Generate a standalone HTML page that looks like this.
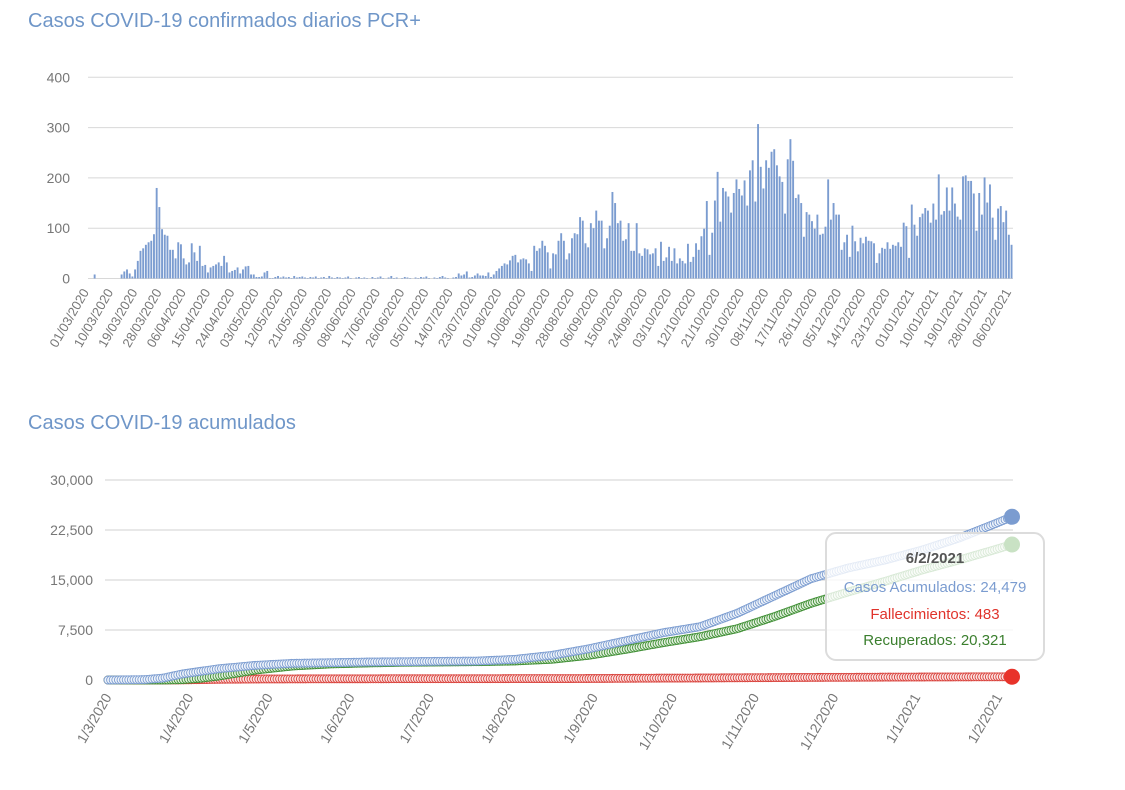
<!DOCTYPE html>
<html><head><meta charset="utf-8"><style>
body{margin:0;background:#fff;width:1125px;height:790px;overflow:hidden;font-family:"Liberation Sans",sans-serif}
svg{display:block}
</style></head><body>
<svg id="s" width="1125" height="790">
<text x="28" y="27" font-size="20" fill="#6f96c8">Casos COVID-19 confirmados diarios PCR+</text>
<text x="28" y="429" font-size="20" fill="#6f96c8">Casos COVID-19 acumulados</text>
<g id="topg"></g>
<g id="botg"></g>
</svg>
<script>
const daily=[0,0,8,0,0,0,0,0,0,0,0,0,
8,14,18,10,4,18,35,55,60,67,72,75,88,180,142,98,87,85,57,57,40,72,68,40,28,32,70,52,35,65,25,27,12,22,25,28,32,25,45,32,12,15,17,22,10,18,24,25,8,8,3,3,4,12,15,1,1,3,5,2,
4,2,3,1,5,2,3,4,2,1,3,2,4,1,2,3,1,5,2,1,3,2,1,2,4,1,0,2,3,1,2,1,0,3,1,2,4,1,0,2,5,1,2,0,1,3,2,1,0,2,1,3,2,4,1,0,2,1,3,5,2,1,0,2,3,10,6,
8,14,2,3,6,10,6,6,5,12,3,8,
15,20,25,30,28,36,45,47,32,38,40,38,30,15,65,55,60,75,65,52,20,50,48,75,90,75,38,50,80,90,88,122,115,70,62,110,100,135,115,115,60,80,105,172,150,110,115,75,78,110,55,55,110,50,45,60,58,48,50,60,25,73,35,42,63,35,60,30,40,35,30,
69,33,43,70,57,84,99,154,47,91,155,212,113,180,173,163,131,170,197,178,165,195,145,215,235,153,307,222,179,235,220,252,257,225,203,192,129,237,277,234,160,167,150,83,132,127,114,99,127,87,89,103,197,117,150,127,127,57,72,87,43,105,74,54,81,70,83,75,74,70,31,50,61,59,72,59,67,65,72,63,111,104,41,147,107,85,122,129,140,135,111,149,117,207,127,134,181,135,181,149,123,117,203,205,194,194,169,95,170,127,201,151,187,121,77,139,144,112,135,87,67];
const topTicks=[0,100,200,300,400];
const cumDays=[0,14,21,28,35,42,56,70,84,98,112,126,140,154,168,182,196,210,224,238,252,266,280,294,308,322,336,342];
const casos=[0,60,300,900,1300,1700,2200,2500,2600,2700,2750,2800,2850,3100,3700,4700,5900,7100,8000,10000,12600,15200,16800,18000,19500,21300,23500,24479];
const recuperados=[0,0,0,50,250,600,1500,2100,2400,2550,2650,2700,2750,2850,3100,3700,4600,5600,6500,7700,9500,11500,13200,14800,16500,18000,19600,20321];
const fallecidos=[0,0,5,20,60,100,150,170,180,185,190,195,200,205,215,230,255,280,300,330,360,390,410,430,445,460,478,483];
const botTicks=[0,7500,15000,22500,30000];
const monthDays=[0,31,61,92,122,153,184,214,245,275,306,337];
const monthLabels=["1/3/2020","1/4/2020","1/5/2020","1/6/2020","1/7/2020","1/8/2020","1/9/2020","1/10/2020","1/11/2020","1/12/2020","1/1/2021","1/2/2021"];

const NS="http://www.w3.org/2000/svg";
function mk(p,t,a){const e=document.createElementNS(NS,t);for(const k in a)e.setAttribute(k,a[k]);p.appendChild(e);return e;}
const topG=document.getElementById('topg'),botG=document.getElementById('botg');
const tx0=88,tw=925/343;
const tX=d=>tx0+d*tw, tY=v=>278.5-v*0.503;
topTicks.forEach(v=>{
 const l=mk(topG,'line',{x1:88,x2:1013,y1:tY(v),y2:tY(v),stroke:'#d8d8d8','stroke-width':1});
 
 
 const t=mk(topG,'text',{x:70,y:tY(v)+5,'text-anchor':'end','font-size':14,fill:'#777'});t.textContent=v;
 
 
});
daily.forEach((v,i)=>{
 const r=mk(topG,'rect',{x:tX(i)+0.3,y:tY(v),width:tw-0.8,height:Math.max(0,tY(0)-tY(v)),fill:'#7b9cd0'});
 
 
});
function pad(n){return n<10?'0'+n:''+n;}
for(let d=0;d<daily.length;d+=9){
 const dt=new Date(Date.UTC(2020,2,1)+d*86400000);
 const s=pad(dt.getUTCDate())+'/'+pad(dt.getUTCMonth()+1)+'/'+dt.getUTCFullYear();
 const x=tX(d)+tw/2,y=292;
 const t=mk(topG,'text',{x:x,y:y,'text-anchor':'end','font-size':13,fill:'#777',transform:`rotate(-60 ${x} ${y})`});t.textContent=s;
 
 
}
const bX=d=>108+d*(904/342), bY=v=>680-v*(200/30000);
botTicks.forEach(v=>{
 const l=mk(botG,'line',{x1:105,x2:1013,y1:bY(v),y2:bY(v),stroke:'#d0d0d0','stroke-width':1});
 
 
 const t=mk(botG,'text',{x:93,y:bY(v)+5,'text-anchor':'end','font-size':14,fill:'#777'});t.textContent=v.toLocaleString('en-US');
 
 
});
monthDays.forEach((d,i)=>{
 const x=bX(d)+4,y=697;
 const t=mk(botG,'text',{x:x,y:y,'text-anchor':'end','font-size':14,fill:'#777',transform:`rotate(-60 ${x} ${y})`});t.textContent=monthLabels[i];
 
 
});
function series(arr,col,fillc,name){
 const pts=cumDays.map((d,i)=>bX(d).toFixed(1)+','+bY(arr[i]).toFixed(1)).join(' ');
 const pl=mk(botG,'polyline',{points:pts,fill:'none',stroke:'none'});
 
 
 const g=mk(botG,'g',{});
 
 
 const L=pl.getTotalLength();
 for(let s=0;s<=L;s+=2.6){
  const p=pl.getPointAtLength(s);
  mk(g,'circle',{cx:p.x,cy:p.y,r:4,fill:fillc,stroke:col,'stroke-width':0.9});
 }
}
series(fallecidos,'#d9413b','#fbe3e2','fallecimientos');
series(recuperados,'#3f8f34','#e3f0df','recuperados');
series(casos,'#7b9cd0','#eef3fa','casos-acumulados');
const tip=mk(botG,'rect',{x:826,y:533,width:218,height:127,rx:10,fill:'rgba(255,255,255,0.8)',stroke:'#dcdcdc','stroke-width':2});


const tl=[["6/2/2021",'#555',"bold",563],["Casos Acumulados: 24,479",'#7b9cd0',"normal",592],["Fallecimientos: 483",'#e0332b',"normal",619],["Recuperados: 20,321",'#3b7f2e',"normal",645]];
tl.forEach(r=>{const t=mk(botG,'text',{x:935,y:r[3],'text-anchor':'middle','font-size':15,fill:r[1],'font-weight':r[2]});t.textContent=r[0];
 
 });
const last=cumDays.length-1;
[[casos,'#7b9cd0','casos-end-point'],[recuperados,'#c9e2c4','recuperados-end-point'],[fallecidos,'#e8332a','fallecimientos-end-point']].forEach(p=>{
 const c=mk(botG,'circle',{cx:bX(cumDays[last]),cy:bY(p[0][last]),r:8,fill:p[1]});
 
 
});
</script>
</body></html>
